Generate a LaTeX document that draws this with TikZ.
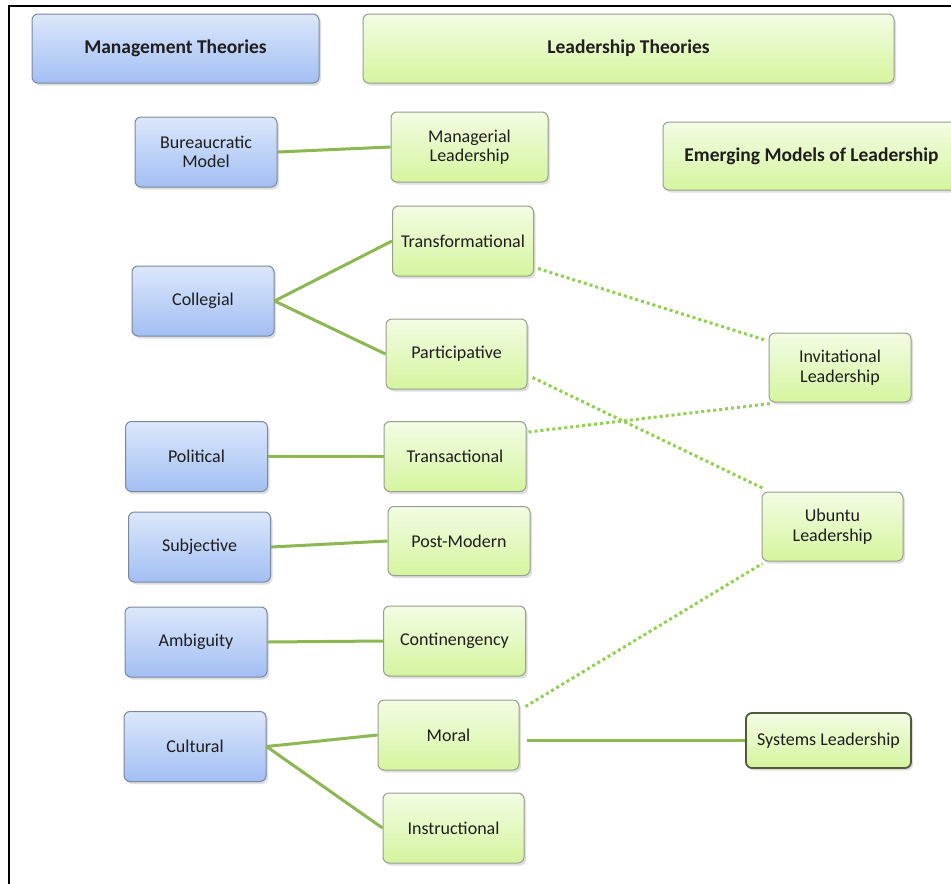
\documentclass[tikz,border=0pt]{standalone}
\usepackage{fontspec}
\setmainfont{Carlito}
\usetikzlibrary{shadows}

\definecolor{bluetop}{HTML}{DCE7FB}
\definecolor{bluebot}{HTML}{A2BFF3}
\definecolor{blueedge}{HTML}{7A889F}
\definecolor{greentop}{HTML}{F3FCE4}
\definecolor{greenbot}{HTML}{D5F59E}
\definecolor{greenedge}{HTML}{979F8F}
\definecolor{sysedge}{HTML}{4F5A3C}
\definecolor{linkgreen}{HTML}{8DB851}
\definecolor{dotgreen}{HTML}{92D050}
\definecolor{txt}{HTML}{1E1E1E}

\tikzset{
  box/.style={rounded corners=6pt, draw, line width=1pt, align=center, text=txt,
    font=\fontsize{18}{19.5}\selectfont, inner sep=2pt,
    drop shadow={opacity=0.25, shadow xshift=2pt, shadow yshift=-2.5pt}},
  bluebox/.style={box, draw=blueedge, top color=bluetop, bottom color=bluebot},
  greenbox/.style={box, draw=greenedge, top color=greentop, bottom color=greenbot},
  head/.style={font=\bfseries\fontsize{19.5}{21}\selectfont},
  link/.style={draw=linkgreen, line width=3pt},
  dotlink/.style={draw=dotgreen, line width=3pt, dash pattern=on 3pt off 3pt},
}

\begin{document}
\begin{tikzpicture}[x=1pt, y=-1pt]
  \clip (0,0) rectangle (951,884);
  \fill[white] (0,0) rectangle (951,884);

  % outer frame (left and top edges)
  \draw[line width=2pt] (9,884) -- (9,6) -- (951,6);

  % headers
  \node[bluebox, head, minimum width=287pt, minimum height=69pt] (mgmt) at (175.5,48.5) {Management Theories};
  \node[greenbox, head, minimum width=531pt, minimum height=69pt] (lead) at (628.5,48.5) {Leadership Theories};
  \node[greenbox, head, minimum width=297pt, minimum height=68pt] (emerg) at (811.5,156) {Emerging Models of Leadership};

  % management theories
  \node[bluebox, minimum width=142pt, minimum height=70pt] (bur) at (206,152) {Bureaucratic\\Model};
  \node[bluebox, minimum width=142pt, minimum height=70pt] (col) at (203,301) {Collegial};
  \node[bluebox, minimum width=142pt, minimum height=70pt] (pol) at (196.5,456.5) {Political};
  \node[bluebox, minimum width=142pt, minimum height=70pt] (sub) at (199.5,547) {Subjective};
  \node[bluebox, minimum width=142pt, minimum height=70pt] (amb) at (196,642) {Ambiguity};
  \node[bluebox, minimum width=142pt, minimum height=70pt] (cul) at (195,746.5) {Cultural};

  % leadership theories
  \node[greenbox, minimum width=157pt, minimum height=70pt] (man) at (469.5,147) {Managerial\\Leadership};
  \node[greenbox, minimum width=141pt, minimum height=70pt] (trf) at (463,241) {Transformational};
  \node[greenbox, minimum width=141pt, minimum height=70pt] (par) at (456.5,354) {Participative};
  \node[greenbox, minimum width=142pt, minimum height=70pt] (trn) at (455,456.5) {Transactional};
  \node[greenbox, minimum width=142pt, minimum height=69pt] (pst) at (459,541) {Post-Modern};
  \node[greenbox, minimum width=142pt, minimum height=70pt] (con) at (454.5,641) {Continengency};
  \node[greenbox, minimum width=141pt, minimum height=70pt] (mor) at (448.5,735) {Moral};
  \node[greenbox, minimum width=141pt, minimum height=70pt] (ins) at (453.5,828) {Instructional};

  % emerging models
  \node[greenbox, minimum width=142pt, minimum height=69pt] (inv) at (840,367.5) {Invitational\\Leadership};
  \node[greenbox, minimum width=141pt, minimum height=69pt] (ubu) at (832.5,526.5) {Ubuntu\\Leadership};
  \node[greenbox, draw=sysedge, line width=1.8pt, minimum width=165pt, minimum height=55pt] (sys) at (828.5,740.5) {Systems Leadership};

  % solid links
  \draw[link] (bur.east) -- (man.west);
  \draw[link] (col.east) -- (trf.west);
  \draw[link] (col.east) -- (par.west);
  \draw[link] (pol.east) -- (trn.west);
  \draw[link] (sub.east) -- (pst.west);
  \draw[link] (amb.east) -- (con.west);
  \draw[link] (cul.east) -- (mor.west);
  \draw[link] (cul.east) -- (ins.west);
  \coordinate (morout) at ([shift={(7,5.5)}]mor.east);
  \draw[link] (morout) -- (sys.west);

  % dotted links
  \draw[dotlink] ([shift={(4,-8)}]trf.south east) -- ([shift={(-2,8)}]inv.north west);
  \draw[dotlink] ([shift={(5,-12)}]par.south east) -- ([shift={(2,-3)}]ubu.north west);
  \draw[dotlink] ([shift={(2,11)}]trn.north east) -- ([shift={(3,1)}]inv.south west);
  \draw[dotlink] ([shift={(6,7)}]mor.north east) -- ([shift={(1,2)}]ubu.south west);
\end{tikzpicture}
\end{document}
